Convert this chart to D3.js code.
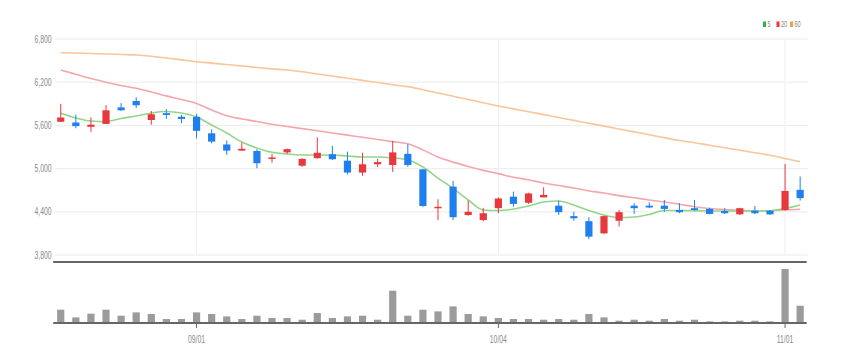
<!DOCTYPE html>
<html>
<head>
<meta charset="utf-8">
<script src="https://cdn.jsdelivr.net/npm/d3@7"></script>
<style>
  body { margin: 0; background: #fff; }
  text { font-family: "Liberation Sans", Arial, sans-serif; }
</style>
</head>
<body>
<div id="container"></div>
<script>
/* DATA */
const dates = ["08/19","08/22","08/23","08/24","08/25","08/26","08/29","08/30","08/31","09/01",
  "09/02","09/05","09/06","09/07","09/08","09/13","09/14","09/15","09/16","09/19",
  "09/20","09/21","09/22","09/23","09/26","09/27","09/28","09/29","09/30","10/04",
  "10/05","10/06","10/07","10/11","10/12","10/13","10/14","10/17","10/18","10/19",
  "10/20","10/21","10/24","10/25","10/26","10/27","10/28","10/31","11/01","11/02"];

const open  = [5650,5640,5580,5620,5850,5940,5675,5770,5720,5720,5490,5335,5250,5245,5135,5225,5040,5145,5200,5110,
  4945,5060,5050,5205,4990,4450,4750,4355,4285,4450,4610,4525,4600,4485,4340,4270,4100,4275,4485,4485,
  4485,4425,4450,4440,4410,4365,4415,4415,4425,4705];
const high  = [5900,5750,5710,5880,5910,5990,5800,5825,5745,5760,5545,5390,5360,5270,5205,5280,5145,5435,5315,5235,
  5220,5135,5385,5340,4995,4575,4830,4555,4455,4600,4680,4665,4740,4555,4400,4325,4345,4425,4520,4530,
  4565,4520,4565,4455,4450,4455,4480,4425,5065,4890];
const low   = [5650,5560,5510,5620,5800,5840,5610,5690,5630,5420,5350,5190,5245,5005,5080,5205,5025,5140,5120,4920,
  4900,5020,4955,5025,4470,4285,4285,4345,4270,4380,4470,4510,4600,4355,4275,4020,4095,4195,4370,4450,
  4400,4380,4415,4365,4370,4355,4365,4355,4415,4555];
const close = [5710,5590,5610,5810,5810,5880,5755,5745,5690,5525,5375,5250,5275,5075,5155,5270,5135,5220,5130,4945,
  5060,5090,5225,5050,4480,4470,4325,4400,4380,4585,4510,4655,4635,4395,4310,4055,4340,4395,4450,4460,
  4440,4395,4425,4370,4380,4450,4380,4365,4690,4590];
const volume = [133,56,93,133,73,106,90,40,40,106,90,66,40,73,50,50,33,100,50,66,
  73,33,323,73,133,116,166,90,66,50,40,40,33,40,33,90,56,23,33,23,
  40,23,33,16,16,23,23,16,540,173].map(v => v * 1000);

const ma5  = [5768,5703,5661,5653,5696,5731,5772,5793,5772,5717,5606,5494,5369,5286,5226,5203,5189,5189,5189,5175,
  5161,5161,5147,5119,5022,4869,4724,4564,4425,4418,4439,4481,4536,4550,4494,4418,4356,4321,4328,4363,
  4418,4418,4415,4411,4411,4411,4411,4415,4446,4494];
const ma20 = [6370,6310,6250,6200,6155,6115,6065,6010,5960,5905,5815,5735,5690,5655,5615,5585,5555,5525,5495,5465,
  5435,5405,5375,5345,5260,5160,5090,5030,4975,4930,4880,4845,4800,4765,4730,4690,4660,4625,4595,4565,
  4535,4505,4470,4445,4430,4420,4415,4415,4425,4435];
const ma60 = [6610,6605,6598,6592,6585,6578,6560,6535,6510,6485,6465,6445,6425,6405,6385,6369,6345,6315,6285,6255,
  6225,6195,6165,6138,6095,6050,6005,5960,5915,5869,5830,5790,5750,5710,5670,5629,5590,5550,5510,5470,
  5430,5390,5360,5325,5290,5255,5220,5185,5140,5096];

const priceTicks = [3800, 4400, 5000, 5600, 6200, 6800];
const dateTicks = ["09/01", "10/04", "11/01"];
const legendItems = [
  { name: "5", color: "#2bb24c" },
  { name: "20", color: "#e8383d" },
  { name: "60", color: "#f3a33c" }
];

/* CONSTANTS */
const width = 842, height = 364;
const left = 53.2, right = 807.7;
const priceTop = 39, priceBottom = 255;
const volTop = 269, volBottom = 323;
const upColor = "#e8383d", downColor = "#1f7fee";

/* SCALES */
const xScale = d3.scalePoint()
  .domain(dates)
  .range([left, right])
  .padding(0.5);

const yScale = d3.scaleLinear()
  .domain([3800, 6800])
  .range([priceBottom, priceTop]);

const vScale = d3.scaleLinear()
  .domain([0, d3.max(volume)])
  .range([volBottom, volTop]);

const bodyW = 7.2;

const candles = dates.map((d, i) => ({ date: d, o: open[i], h: high[i], l: low[i], c: close[i], v: volume[i] }));

/* SVG */
const svg = d3.select("#container").append("svg")
  .attr("width", width)
  .attr("height", height);

/* horizontal grid + price labels */
svg.append("g").selectAll("line")
  .data(priceTicks)
  .join("line")
  .attr("x1", 55).attr("x2", right)
  .attr("y1", d => yScale(d)).attr("y2", d => yScale(d))
  .attr("stroke", "#ececec");

svg.append("g").selectAll("text")
  .data(priceTicks)
  .join("text")
  .attr("transform", d => `translate(51.5, ${yScale(d) + 3.5}) scale(0.62, 1)`)
  .attr("text-anchor", "end")
  .attr("font-size", 11)
  .attr("fill", "#8a8a8a")
  .text(d => d3.format(",")(d));

/* vertical grid at labelled dates */
svg.append("g").selectAll("line")
  .data(dateTicks)
  .join("line")
  .attr("x1", d => xScale(d)).attr("x2", d => xScale(d))
  .attr("y1", priceTop).attr("y2", priceBottom)
  .attr("stroke", "#efefef");

/* moving averages */
const maLine = arr => d3.line()
  .x((d, i) => xScale(dates[i]))
  .y(d => yScale(d))
  .curve(d3.curveMonotoneX)(arr);

svg.append("path").attr("d", maLine(ma60)).attr("fill", "none").attr("stroke", "#f9c59a").attr("stroke-width", 1.6);
svg.append("path").attr("d", maLine(ma20)).attr("fill", "none").attr("stroke", "#f4a6ad").attr("stroke-width", 1.6);
svg.append("path").attr("d", maLine(ma5)).attr("fill", "none").attr("stroke", "#92d68c").attr("stroke-width", 1.6);

/* candles */
const cg = svg.append("g").selectAll("g")
  .data(candles)
  .join("g");

cg.append("line")
  .attr("x1", d => xScale(d.date)).attr("x2", d => xScale(d.date))
  .attr("y1", d => yScale(d.h)).attr("y2", d => yScale(d.l))
  .attr("stroke", d => d.c >= d.o ? upColor : downColor)
  .attr("stroke-width", 1);

cg.append("rect")
  .attr("x", d => xScale(d.date) - bodyW / 2)
  .attr("width", bodyW)
  .attr("y", d => yScale(Math.max(d.o, d.c)))
  .attr("height", d => Math.max(1.5, Math.abs(yScale(d.o) - yScale(d.c))))
  .attr("fill", d => d.c >= d.o ? upColor : downColor);

/* separator between panels */
svg.append("line")
  .attr("x1", left).attr("x2", right - 1)
  .attr("y1", 262).attr("y2", 262)
  .attr("stroke", "#333").attr("stroke-width", 1.5);

/* volume bars */
svg.append("g").selectAll("rect")
  .data(candles)
  .join("rect")
  .attr("x", d => xScale(d.date) - bodyW / 2)
  .attr("width", bodyW)
  .attr("y", d => vScale(d.v))
  .attr("height", d => volBottom - vScale(d.v))
  .attr("fill", "#9b9b9b");

svg.append("line")
  .attr("x1", left).attr("x2", right - 1)
  .attr("y1", volBottom).attr("y2", volBottom)
  .attr("stroke", "#666").attr("stroke-width", 2);

/* x ticks + labels */
svg.append("g").selectAll("line")
  .data(dateTicks)
  .join("line")
  .attr("x1", d => xScale(d)).attr("x2", d => xScale(d))
  .attr("y1", volBottom).attr("y2", volBottom + 5)
  .attr("stroke", "#666");

svg.append("g").selectAll("text")
  .data(dateTicks)
  .join("text")
  .attr("transform", d => `translate(${xScale(d)}, 343) scale(0.62, 1)`)
  .attr("text-anchor", "middle")
  .attr("font-size", 11)
  .attr("fill", "#8a8a8a")
  .text(d => d);

/* legend */
const lg = svg.append("g").attr("transform", "translate(763, 21)");
let lx = 0;
legendItems.forEach(item => {
  lg.append("rect").attr("x", lx).attr("y", 0.5).attr("width", 3).attr("height", 5.5).attr("fill", item.color);
  lg.append("text")
    .attr("transform", `translate(${lx + 4.5}, 6) scale(0.62, 1)`)
    .attr("font-size", 9)
    .attr("fill", "#888")
    .text(item.name);
  lx += item.name.length > 1 ? 13.5 : 13.5;
});
</script>
</body>
</html>
